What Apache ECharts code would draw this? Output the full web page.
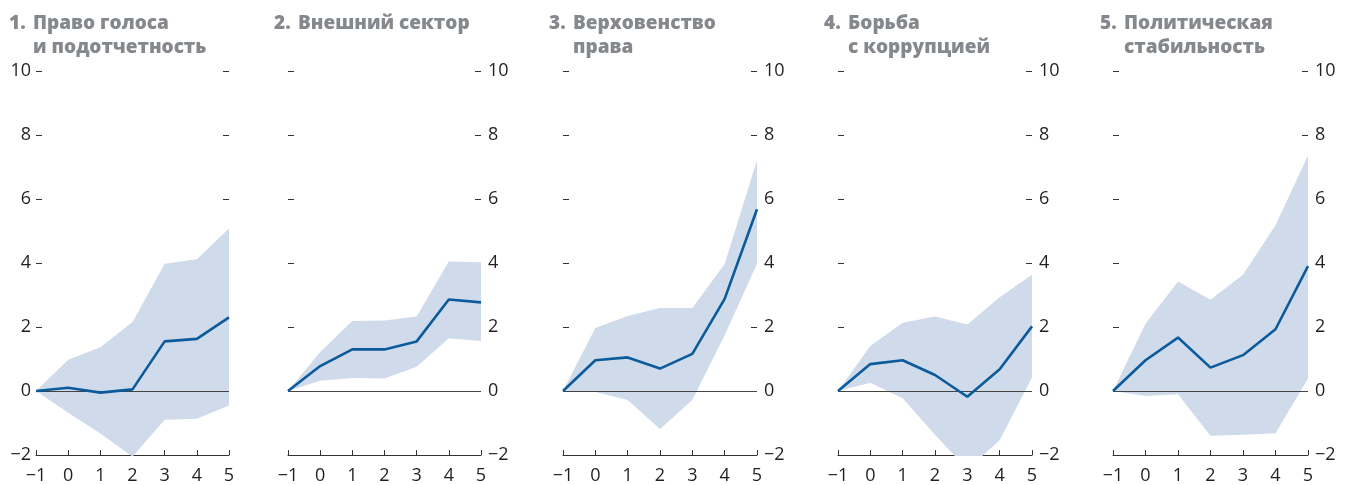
<!DOCTYPE html>
<html>
<head>
<meta charset="utf-8">
<script src="https://cdn.jsdelivr.net/npm/echarts@6/dist/echarts.min.js"></script>
<style>
html,body{margin:0;padding:0;background:#fff;}
#c{width:1351px;height:485px;}
</style>
</head>
<body>
<div id="c"></div>
<script>
// ---- data ----
const categories = ['-1', '0', '1', '2', '3', '4', '5'];
const yTicks = [-2, 0, 2, 4, 6, 8, 10];

const titleNums = ['1.', '2.', '3.', '4.', '5.'];
const titleTexts = ['Право голоса\nи подотчетность', 'Внешний сектор', 'Верховенство\nправа', 'Борьба\nс коррупцией', 'Политическая\nстабильность'];

const est1 = [0, 0.10, -0.05, 0.05, 1.55, 1.63, 2.30];
const up1  = [0, 0.98, 1.37, 2.16, 3.98, 4.12, 5.08];
const lo1  = [0, -0.68, -1.33, -2.05, -0.90, -0.87, -0.45];

const est2 = [0, 0.78, 1.30, 1.30, 1.55, 2.86, 2.77];
const up2  = [0, 1.22, 2.19, 2.20, 2.33, 4.05, 4.02];
const lo2  = [0, 0.32, 0.41, 0.39, 0.76, 1.65, 1.56];

const est3 = [0, 0.96, 1.05, 0.70, 1.16, 2.88, 5.68];
const up3  = [0, 1.97, 2.34, 2.59, 2.59, 3.97, 7.21];
const lo3  = [0, -0.03, -0.28, -1.19, -0.28, 1.74, 3.98];

const est4 = [0, 0.84, 0.96, 0.50, -0.18, 0.68, 2.02];
const up4  = [0, 1.41, 2.13, 2.33, 2.08, 2.93, 3.63];
const lo4  = [0, 0.26, -0.23, -1.37, -2.45, -1.54, 0.42];

const est5 = [0, 0.96, 1.67, 0.73, 1.12, 1.93, 3.90];
const up5  = [0, 2.10, 3.42, 2.85, 3.63, 5.18, 7.36];
const lo5  = [0, -0.16, -0.10, -1.40, -1.37, -1.32, 0.39];

const estimates = [est1, est2, est3, est4, est5];
const uppers = [up1, up2, up3, up4, up5];
const lowers = [lo1, lo2, lo3, lo4, lo5];

// ---- layout ----
const gridLefts = [36, 288, 563, 838, 1113];
const gridWidths = [193, 193, 194, 194, 195];
const titleLefts = [9, 274, 549, 824, 1100];

const LINE = '#0b5a9c';
const BAND = '#cfdbea';
const TXT = '#231f20';
const TITLE = '#85888c';
const fmt = v => String(v).replace('-', '\u2212');
const titleStyle = {fontFamily: 'Open Sans', fontWeight: 800, fontSize: 19, color: TITLE, lineHeight: 24};
const labelFont = {fontFamily: 'Open Sans', fontSize: 18, color: TXT};

const grids = [], xAxes = [], yAxes = [], series = [], titles = [];
for (let i = 0; i < 5; i++) {
  grids.push({left: gridLefts[i], width: gridWidths[i], top: 71, bottom: 29, containLabel: false});
  titles.push({text: titleNums[i], left: titleLefts[i], top: 12, padding: 0, textStyle: titleStyle});
  titles.push({text: titleTexts[i], left: titleLefts[i] + 24, top: 12, padding: 0, textStyle: titleStyle});
  xAxes.push({
    gridIndex: i, type: 'category', data: categories, boundaryGap: false,
    axisLine: {show: true, onZero: false, lineStyle: {color: '#333', width: 1}},
    axisTick: {show: true, inside: true, length: 5, lineStyle: {color: '#333'}},
    axisLabel: Object.assign({show: true, margin: 12, formatter: fmt}, labelFont),
    splitLine: {show: false}
  });
  const yBase = {
    gridIndex: i, type: 'value', min: yTicks[0], max: yTicks[yTicks.length - 1], interval: 2,
    axisLine: {show: false},
    axisTick: {show: true, inside: true, length: 6, lineStyle: {color: '#333'}},
    splitLine: {show: false}
  };
  yAxes.push(Object.assign({}, yBase, {position: 'left',
    axisLabel: Object.assign({show: i === 0, margin: 5, formatter: fmt}, labelFont)}));
  yAxes.push(Object.assign({}, yBase, {position: 'right',
    axisLabel: Object.assign({show: i !== 0, margin: 7, formatter: fmt}, labelFont)}));

  const diff = uppers[i].map((u, k) => +(u - lowers[i][k]).toFixed(3));
  series.push({
    type: 'line', xAxisIndex: i, yAxisIndex: 2 * i, data: lowers[i],
    stack: 'band' + i, stackStrategy: 'all', symbol: 'none',
    lineStyle: {opacity: 0}, silent: true, z: 1
  });
  series.push({
    type: 'line', xAxisIndex: i, yAxisIndex: 2 * i, data: diff,
    stack: 'band' + i, stackStrategy: 'all', symbol: 'none',
    lineStyle: {opacity: 0}, areaStyle: {color: BAND, opacity: 1}, silent: true, z: 1
  });
  series.push({
    type: 'line', xAxisIndex: i, yAxisIndex: 2 * i, data: estimates[i],
    symbol: 'none', lineStyle: {color: LINE, width: 2.6}, z: 3,
    markLine: {silent: true, symbol: 'none', label: {show: false},
      lineStyle: {color: '#444', width: 1, type: 'solid'}, z: 2,
      data: [{yAxis: 0}]}
  });
}

const chart = echarts.init(document.getElementById('c'), null, {renderer: 'canvas'});
chart.setOption({
  animation: false,
  backgroundColor: '#fff',
  title: titles,
  grid: grids,
  xAxis: xAxes,
  yAxis: yAxes,
  series: series
});
</script>
</body>
</html>
